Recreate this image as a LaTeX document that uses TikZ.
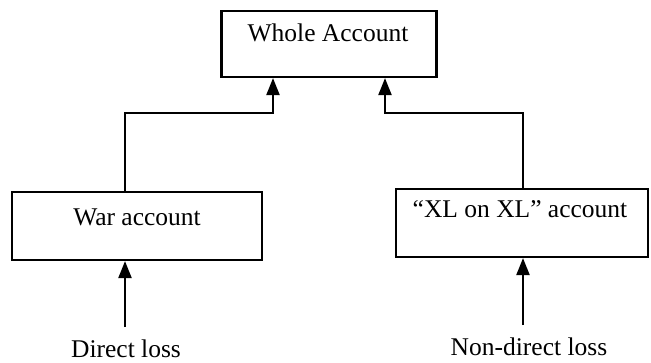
\documentclass[tikz,border=0pt]{standalone}
\usepackage{fontspec}
\setmainfont{Liberation Serif}
\usetikzlibrary{arrows.meta}
\begin{document}
\begin{tikzpicture}[x=1pt,y=-1pt,
  box/.style={draw, line width=2.2pt, rectangle, inner sep=0pt},
  lbl/.style={inner sep=0pt, font=\fontsize{25.5}{30}\selectfont},
  arr/.style={line width=2.2pt, -{Triangle[width=13pt,length=17pt]}}]
\useasboundingbox (0,0) rectangle (651,362);
% boxes
\node[box, minimum width=215pt, minimum height=66pt] (wa) at (329,44) {};
\node[box, minimum width=250pt, minimum height=68pt] (war) at (137,226) {};
\node[box, minimum width=252pt, minimum height=68pt] (xl) at (522,223) {};
% texts
\node[lbl] (wat) at (328,33) {Whole Account};
\node[lbl] (wart) at (137,217) {War account};
\node[lbl] (xlt) at (520,209) {“XL on XL” account};
\node[lbl] (dl) at (126,349) {Direct loss};
\node[lbl] (ndl) at (529,347) {Non-direct loss};
% junctions
\coordinate (kL) at (125,113);
\coordinate (jL) at (273,113);
\coordinate (kR) at (523,113);
\coordinate (jR) at (385,113);
\coordinate (sL) at (125,327);
\coordinate (sR) at (523,325);
% connectors
\draw[arr] (war.north -| kL) -- (kL) -- (jL) -- (jL |- wa.south);
\draw[arr] (xl.north -| kR) -- (kR) -- (jR) -- (jR |- wa.south);
\draw[arr] (sL) -- (sL |- war.south);
\draw[arr] (sR) -- (sR |- xl.south);
\end{tikzpicture}
\end{document}
